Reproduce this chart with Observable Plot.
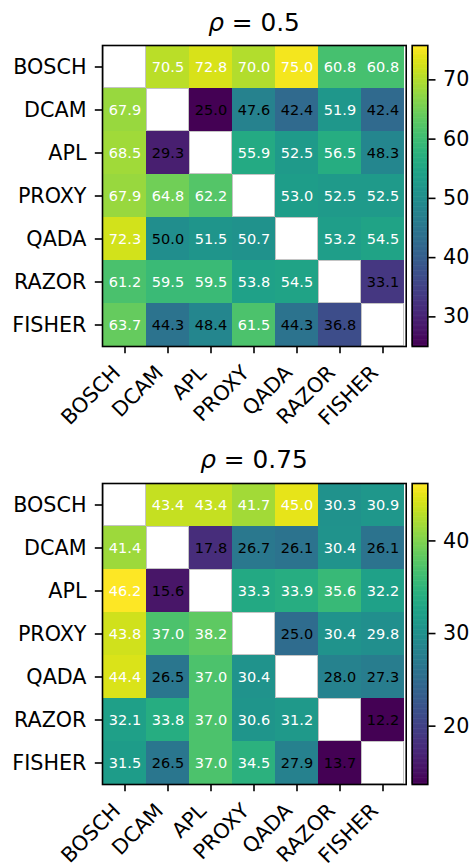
<!DOCTYPE html>
<html>
<head>
<meta charset="utf-8">
<script src="https://cdn.jsdelivr.net/npm/d3@7"></script>
<script src="https://cdn.jsdelivr.net/npm/@observablehq/plot@0.6"></script>
<style>
  html, body { margin: 0; padding: 0; background: white; }
  #fig { position: relative; width: 471px; height: 863px; overflow: hidden; background: white; font-family: "DejaVu Sans", sans-serif; }
  .panel { position: absolute; left: 0; width: 471px; height: 430px; }
  .title { position: absolute; left: 102px; width: 304px; text-align: center; font-size: 24.8px; line-height: 24.8px; top: 10.7px; color: black; white-space: nowrap; }
  .title i { font-style: italic; }
  svg { overflow: visible; }
</style>
</head>
<body>
<div id="fig"></div>
<script>
const models = ["BOSCH", "DCAM", "APL", "PROXY", "QADA", "RAZOR", "FISHER"];

const titles = ["0.5", "0.75"];

// rows = evaluated model (y), columns = x
const rho050 = [
  [null, 70.5, 72.8, 70.0, 75.0, 60.8, 60.8],
  [67.9, null, 25.0, 47.6, 42.4, 51.9, 42.4],
  [68.5, 29.3, null, 55.9, 52.5, 56.5, 48.3],
  [67.9, 64.8, 62.2, null, 53.0, 52.5, 52.5],
  [72.3, 50.0, 51.5, 50.7, null, 53.2, 54.5],
  [61.2, 59.5, 59.5, 53.8, 54.5, null, 33.1],
  [63.7, 44.3, 48.4, 61.5, 44.3, 36.8, null]
];

const rho075 = [
  [null, 43.4, 43.4, 41.7, 45.0, 30.3, 30.9],
  [41.4, null, 17.8, 26.7, 26.1, 30.4, 26.1],
  [46.2, 15.6, null, 33.3, 33.9, 35.6, 32.2],
  [43.8, 37.0, 38.2, null, 25.0, 30.4, 29.8],
  [44.4, 26.5, 37.0, 30.4, null, 28.0, 27.3],
  [32.1, 33.8, 37.0, 30.6, 31.2, null, 12.2],
  [31.5, 26.5, 37.0, 34.5, 27.9, 13.7, null]
];

// colour-bar ranges and ticks
const cbDomain050 = [25.0, 75.8];
const cbDomain075 = [13.7, 46.2];
const cbTicks050 = [30, 40, 50, 60, 70];
const cbTicks075 = [20, 30, 40];

const FONT = "DejaVu Sans";
const LBL = 20.7;
const CELL = 14.5;
const LW = 1.6;
const TICK = 7.2;

function panel(rhoLabel, rows, cbDomain, cbTicks, top) {
  const fig = document.getElementById("fig");
  const div = document.createElement("div");
  div.className = "panel";
  div.style.top = top + "px";
  fig.appendChild(div);

  const cells = [];
  rows.forEach((r, i) => r.forEach((v, j) => cells.push({y: models[i], x: models[j], v})));
  const valid = cells.filter(d => d.v != null);
  const diag = cells.filter(d => d.v == null);
  const ext = d3.extent(valid, d => d.v);
  const mid = (ext[0] + ext[1]) / 2;

  const H = 430, MT = 45, MB = 84;
  const colorOpts = {type: "linear", scheme: "viridis", domain: cbDomain, clamp: true};

  const heat = Plot.plot({
    width: 410,
    height: H,
    marginLeft: 102,
    marginRight: 4.3,
    marginTop: MT,
    marginBottom: MB,
    style: {fontFamily: FONT, background: "none", overflow: "visible"},
    x: {domain: models, padding: 0, axis: null},
    y: {domain: models, padding: 0, axis: null},
    color: colorOpts,
    marks: [
      Plot.cell(valid, {x: "x", y: "y", fill: "v"}),
      Plot.cell(diag, {x: "x", y: "y", fill: "white", stroke: "#c4c4c4", strokeWidth: 1, inset: 0.5}),
      Plot.text(valid.filter(d => d.v > mid), {x: "x", y: "y", text: d => d.v.toFixed(1), fill: "white", fontSize: CELL}),
      Plot.text(valid.filter(d => d.v <= mid), {x: "x", y: "y", text: d => d.v.toFixed(1), fill: "black", fontSize: CELL}),
      Plot.frame({stroke: "black", strokeWidth: LW}),
      Plot.axisY({anchor: "left", tickSize: TICK, tickPadding: 8.8, fontSize: LBL, strokeWidth: LW, label: null, color: "black"}),
      Plot.axisX({anchor: "bottom", tickSize: TICK, tickFormat: () => "", strokeWidth: LW, label: null}),
      Plot.text(models, {x: d => d, frameAnchor: "bottom", dy: 27.6, dx: -3.5, rotate: -45, textAnchor: "end", lineAnchor: "bottom", fontSize: LBL, fill: "black"})
    ]
  });
  heat.style.position = "absolute";
  heat.style.left = "0px";
  heat.style.top = "0px";
  div.appendChild(heat);

  // colorbar
  const n = 240;
  const lo = cbDomain[0], hi = cbDomain[1];
  const steps = d3.range(n).map(i => ({
    y1: lo + (hi - lo) * i / n,
    y2: lo + (hi - lo) * (i + 1) / n
  }));
  const cb = Plot.plot({
    width: 71,
    height: H,
    marginLeft: 11.7,
    marginRight: 43.7,
    marginTop: MT,
    marginBottom: MB,
    style: {fontFamily: FONT, background: "none", overflow: "visible"},
    x: {domain: [0, 1], axis: null},
    y: {domain: cbDomain, axis: null},
    color: colorOpts,
    marks: [
      Plot.rect(steps, {x1: 0, x2: 1, y1: "y1", y2: d => Math.min(hi, d.y2 + (hi - lo) * 0.002), fill: d => (d.y1 + d.y2) / 2}),
      Plot.frame({stroke: "black", strokeWidth: LW}),
      Plot.axisY({anchor: "right", ticks: cbTicks, tickSize: TICK, tickPadding: 8, fontSize: LBL, strokeWidth: LW, label: null, tickFormat: d => String(d)})
    ]
  });
  cb.style.position = "absolute";
  cb.style.left = "400px";
  cb.style.top = "0px";
  div.appendChild(cb);

  const t = document.createElement("div");
  t.className = "title";
  t.innerHTML = "<i>ρ</i> = " + rhoLabel;
  div.appendChild(t);
}

panel(titles[0], rho050, cbDomain050, cbTicks050, 0);
panel(titles[1], rho075, cbDomain075, cbTicks075, 437.7);
</script>
</body>
</html>
